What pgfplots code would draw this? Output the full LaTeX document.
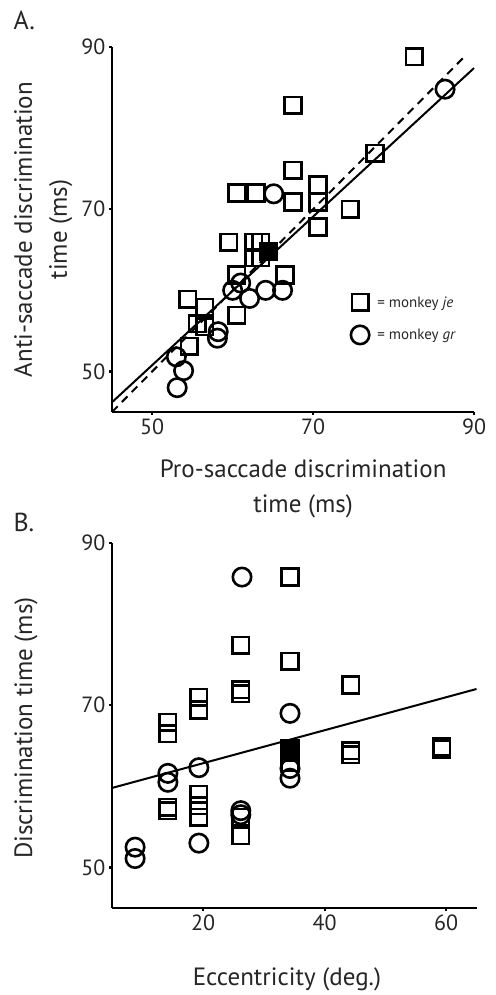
\documentclass[border=0pt]{standalone}
\usepackage{fontspec}
\setmainfont{PT Sans}
\usepackage{pgfplots}
\pgfplotsset{compat=1.18}
\begin{document}
\begin{tikzpicture}
\path[use as bounding box] (0,0) rectangle (495pt,995pt);
\pgfplotsset{
  myax/.style={
    scale only axis,
    axis lines=left,
    axis line style={-, line width=2.2pt, black},
    tick align=outside,
    major tick length=3pt,
    tick style={line width=2.2pt, black},
    /pgf/number format/assume math mode=true,
    ticklabel style={font=\fontsize{22}{26}\selectfont, text=black!85},
    label style={font=\fontsize{25}{35}\selectfont, align=center, text=black!85},
    clip=false,
  },
  sq/.style={only marks, mark=square, mark size=8.3pt, mark options={line width=2.6pt, solid}, black},
  ci/.style={only marks, mark=o, mark size=9.2pt, mark options={line width=2.6pt, solid}, black},
}
% Panel A
\begin{axis}[myax,
  at={(112pt,583pt)}, anchor=south west,
  width=362pt, height=365pt,
  xmin=45, xmax=90, ymin=45, ymax=90,
  xtick={50,70,90}, ytick={50,70,90},
  xlabel={Pro-saccade discrimination\\time (ms)},
  ylabel={Anti-saccade discrimination\\time (ms)},
  xlabel style={at={(axis description cs:0.528,-0.211)}, anchor=center},
  ylabel style={at={(axis description cs:-0.19,0.5)}, anchor=center},
  legend style={at={(axis cs:74.3,59.8)}, anchor=north west, draw=none, fill=none,
    font=\fontsize{15}{18}\selectfont, row sep=15pt, text=black!85,
    /tikz/every odd column/.append style={column sep=6pt}},
  legend cell align=left,
]
\addplot[sq] coordinates {
(82.6,88.8) (77.7,76.9) (67.5,82.8) (67.5,74.8) (60.5,72.0) (62.9,72.0)
(67.5,70.9) (70.6,73.0) (70.6,70.9) (74.6,70.0) (70.6,67.8) (59.5,65.9)
(62.6,65.9) (63.5,65.9) (62.6,64.0) (63.5,64.0) (66.5,61.9) (60.5,61.9)
(60.5,56.9) (54.4,58.9) (56.5,57.9) (55.6,55.9) (56.5,55.5) (54.6,53.1)
};
\addlegendentry{= monkey \textit{je}}
\addplot[ci] coordinates {
(86.4,84.8) (65.1,71.9) (61,60.9) (60,60) (62.1,59) (64.1,60) (66.2,60)
(58.2,54.9) (58.1,54.1) (53,51.8) (53.9,50.1) (53.1,48)
};
\addlegendentry{= monkey \textit{gr}}
\addplot[only marks, mark=square*, mark size=8.3pt, mark options={line width=2.6pt, fill=black}, black, forget plot] coordinates {(64.5,64.8)};
\addplot[black, line width=2pt, forget plot] coordinates {(45,46.2) (90,87.4)};
\addplot[black, line width=2pt, dash pattern=on 8pt off 6pt, forget plot] coordinates {(45,45) (89,89)};
\end{axis}
% Panel B
\begin{axis}[myax,
  at={(112pt,87pt)}, anchor=south west,
  width=364.5pt, height=365pt,
  xmin=5, xmax=65, ymin=45, ymax=90,
  xtick={20,40,60}, ytick={50,70,90},
  xlabel={Eccentricity (deg.)},
  ylabel={Discrimination time (ms)},
  xlabel style={at={(axis description cs:0.48,-0.195)}, anchor=center},
  ylabel style={at={(axis description cs:-0.236,0.493)}, anchor=center},
]
\addplot[sq] coordinates {
(34.3,85.8) (26.2,77.4) (34.3,75.4) (44.3,72.5) (26.2,71.9) (26.2,71.4)
(19.3,71.0) (19.3,69.4) (14.2,67.9) (14.2,66.5) (34.3,64.2) (34.3,62.9)
(44.3,64.4) (44.3,63.9) (59.3,64.9) (59.3,64.6) (14.2,57.4) (14.2,57.0)
(19.3,59.0) (19.3,57.6) (19.3,56.2) (26.2,56.2) (26.2,53.9)
};
\addplot[ci] coordinates {
(26.4,85.8) (34.3,69.0) (34.3,62.2) (34.3,61.0) (19.3,62.3) (14.2,61.6)
(14.2,60.5) (26.2,57.0) (26.2,56.5) (19.3,53.0) (8.8,52.5) (8.8,51.1)
};
\addplot[only marks, mark=square*, mark size=8.3pt, mark options={line width=2.6pt, fill=black}, black] coordinates {(34.3,64.6)};
\addplot[black, line width=2pt] coordinates {(5,59.8) (65,72)};
\end{axis}
\node[anchor=base west, font=\fontsize{26}{30}\selectfont, text=black!85] at (10pt,965pt) {A.};
\node[anchor=base west, font=\fontsize{26}{30}\selectfont, text=black!85] at (10pt,463pt) {B.};
\end{tikzpicture}
\end{document}
